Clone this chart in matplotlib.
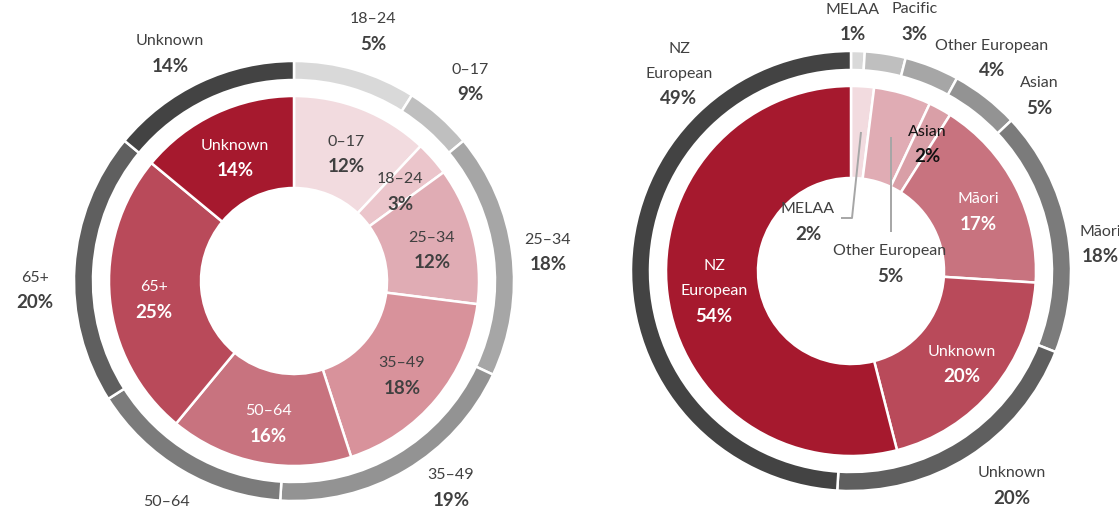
import matplotlib
matplotlib.use("Agg")
import matplotlib.pyplot as plt

plt.rcParams['font.family'] = ['Lato', 'DejaVu Sans']

W, H = 1119, 517

# ---------------- data ----------------
age_cats = ["0–17", "18–24", "25–34", "35–49", "50–64", "65+", "Unknown"]
age_inner = [12, 3, 12, 18, 16, 25, 14]
age_outer = [9, 5, 18, 19, 15, 20, 14]

eth_inner_cats = ["MELAA", "Other European", "Asian", "Māori", "Unknown", "NZ\nEuropean"]
eth_inner = [2, 5, 2, 17, 20, 54]
eth_outer_cats = ["MELAA", "Pacific", "Other European", "Asian", "Māori", "Unknown", "NZ\nEuropean"]
eth_outer = [1, 3, 4, 5, 18, 20, 49]

# ---------------- styles ----------------
pinks7 = ["#f2dbdf", "#ebc5cb", "#e0acb4", "#d8929b", "#c8737f", "#b94a5a", "#a6192e"]
grays7 = ["#d9d9d9", "#bfbfbf", "#a6a6a6", "#939393", "#7b7b7b", "#5f5f5f", "#434343"]
eth_pinks = ["#f2dbdf", "#e0acb4", "#d99fa7", "#c8737f", "#b94a5a", "#a6192e"]

DARK = "#404040"

fig = plt.figure(figsize=(W / 100, H / 100), dpi=100)
ax = fig.add_axes([0, 0, 1, 1])

R_OUT, W_OUT = 220, 19
R_IN, W_IN = 185, 92

def donut(center, inner_vals, inner_cols, outer_vals, outer_cols):
    cx, cy = center
    c = (cx, H - cy)
    ax.pie(outer_vals, colors=outer_cols, radius=R_OUT, center=c, startangle=90,
           counterclock=False,
           wedgeprops=dict(width=W_OUT, edgecolor="white", linewidth=1.8))
    ax.pie(inner_vals, colors=inner_cols, radius=R_IN, center=c, startangle=90,
           counterclock=False,
           wedgeprops=dict(width=W_IN, edgecolor="white", linewidth=1.8))

donut((294, 281), age_inner, pinks7, age_outer, grays7)
donut((851, 271), eth_inner, eth_pinks, eth_outer, grays7)

def label(x, y, name, pct, color=DARK, gap=25):
    lines = name.split("\n")
    n = len(lines)
    for i, ln in enumerate(lines):
        ax.text(x, H - (y - (n - 1 - i) * gap), ln, ha="center", va="center",
                fontsize=11.5, color=color)
    ax.text(x, H - (y + gap), f"{pct}%", ha="center", va="center",
            fontsize=13.5, fontweight="bold", color=color)

# label positions (pixel coords of the name line) – layout only
age_outer_pos = [(470, 70), (373, 19), (548, 240), (451, 475), (166, 502), (35, 278), (170, 41)]
age_inner_pos = [(346, 142), (400, 179), (432, 238), (402, 363), (268, 411), (154, 287), (235, 146)]
age_inner_txt = [DARK, DARK, DARK, DARK, "white", "white", "white"]

for cat, v, p in zip(age_cats, age_outer, age_outer_pos):
    label(p[0], p[1], cat, v)
for cat, v, p, col in zip(age_cats, age_inner, age_inner_pos, age_inner_txt):
    label(p[0], p[1], cat, v, color=col)

eth_outer_pos = [(853, 10), (915, 9), (992, 46), (1039, 83), (1100, 232), (1012, 473), (679, 74)]
for cat, v, p in zip(eth_outer_cats, eth_outer, eth_outer_pos):
    label(p[0], p[1], cat, v)

eth_inner_pos = [(808, 209), (890, 251), (927, 132), (978, 199), (962, 352), (714, 291)]
eth_inner_txt = [DARK, DARK, "#111111", "white", "white", "white"]
for cat, v, p, col in zip(eth_inner_cats, eth_inner, eth_inner_pos, eth_inner_txt):
    label(p[0], p[1], cat, v, color=col)

# leader lines
LC = "#a6a6a6"
ax.plot([861, 852, 841], [H - 132, H - 218, H - 218], color=LC, lw=1.4, solid_capstyle="butt")
ax.plot([891, 891], [H - 137, H - 232], color=LC, lw=1.4, solid_capstyle="butt")

ax.set_xlim(0, W)
ax.set_ylim(0, H)
ax.set_aspect("equal")
ax.axis("off")

fig.savefig("out.png", dpi=100, facecolor="white")
